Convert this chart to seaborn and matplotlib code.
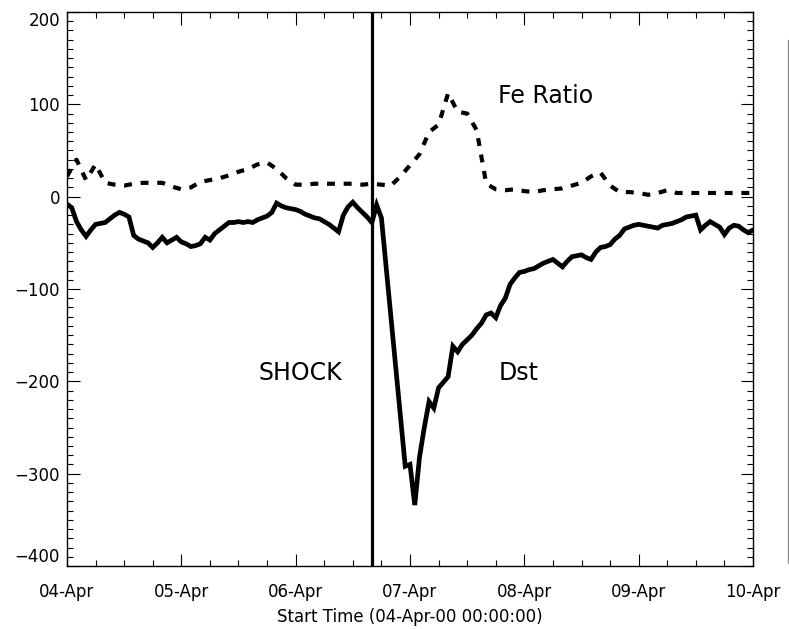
import numpy as np
import pandas as pd
import matplotlib
matplotlib.use("Agg")
import matplotlib.pyplot as plt
from matplotlib.ticker import MultipleLocator
from matplotlib.lines import Line2D
import seaborn as sns

# Dst index, hourly from 04-Apr-00 00:00 (nT)
dst_values = [
    -8, -12, -27, -36, -43, -36, -30, -29, -28, -24, -20, -17, -19, -22, -42, -46,
    -48, -50, -55, -50, -44, -50, -47, -44, -49, -51, -54, -53, -51, -44, -47, -40,
    -36, -32, -28, -28, -27, -28, -27, -28, -25, -23, -21, -17, -7, -10, -12, -13,
    -14, -16, -19, -21, -23, -24, -27, -30, -34, -38, -20, -11, -6, -12, -17, -22,
    -28, -9, -23, -77, -131, -185, -238, -292, -290, -334, -282, -250, -222, -229, -207, -201,
    -195, -162, -168, -160, -155, -150, -143, -137, -128, -126, -131, -118, -110, -95, -88, -82,
    -81, -79, -78, -75, -72, -70, -68, -72, -76, -70, -65, -64, -63, -66, -68, -60,
    -55, -54, -52, -46, -42, -35, -33, -31, -30, -31, -32, -33, -34, -31, -30, -29,
    -27, -25, -22, -21, -20, -36, -31, -27, -30, -33, -41, -34, -31, -32, -36, -39,
    -36,
]
dst_hours = np.arange(len(dst_values))

# Fe charge-state ratio, every 2 hours
fe_values = [
    22, 40, 18, 35, 15, 13, 12, 14, 15, 15, 15, 11, 8, 10, 16, 18,
    20, 23, 27, 30, 35, 37, 30, 20, 13, 13, 14, 14, 14, 14, 14, 13,
    14, 13, 12, 22, 34, 46, 70, 78, 112, 92, 90, 72, 14, 8, 7, 8,
    6, 5, 7, 8, 9, 12, 15, 22, 26, 12, 5, 5, 4, 2, 4, 7,
    4, 4, 4, 4, 4, 4, 4, 4, 4,
]
fe_hours = np.arange(len(fe_values)) * 2

day_ticks = [0, 24, 48, 72, 96, 120, 144]
day_labels = ["04-Apr", "05-Apr", "06-Apr", "07-Apr", "08-Apr", "09-Apr", "10-Apr"]
y_ticks = [-400, -300, -200, -100, 0, 100, 200]
shock_hour = 64

sns.set_style("ticks")
plt.rcParams["font.family"] = ["DejaVu Sans"]
plt.rcParams["text.color"] = "black"
plt.rcParams["axes.labelcolor"] = "black"
plt.rcParams["axes.edgecolor"] = "black"

fig = plt.figure(figsize=(7.89, 6.29), dpi=100)
ax = fig.add_axes([67 / 789, 63 / 629, 686 / 789, 554 / 629])

dst_df = pd.DataFrame({"hour": dst_hours, "value": dst_values})
fe_df = pd.DataFrame({"hour": fe_hours, "value": fe_values})

sns.lineplot(data=dst_df, x="hour", y="value", ax=ax, color="black", lw=3.4,
             solid_joinstyle="miter")
sns.lineplot(data=fe_df, x="hour", y="value", ax=ax, color="black", lw=3.0,
             ls=(0, (1.9, 2.1)))
ax.axvline(shock_hour, color="black", lw=2.3)

ax.text(90.5, 109, "Fe Ratio", fontsize=17, va="center", ha="left", color="black")
ax.text(40.2, -191, "SHOCK", fontsize=17, va="center", ha="left", color="black")
ax.text(90.5, -191, "Dst", fontsize=17, va="center", ha="left", color="black")

ax.set_xlim(0, 144)
ax.set_ylim(-400, 200)
ax.set_xticks(day_ticks)
ax.set_xticklabels(day_labels)
ax.set_yticks(y_ticks)
ax.xaxis.set_minor_locator(MultipleLocator(6))
ax.yaxis.set_minor_locator(MultipleLocator(10))
ax.tick_params(which="both", direction="in", top=True, right=True,
               width=0.8, colors="black", labelsize=12)
ax.tick_params(which="major", length=9)
ax.tick_params(which="minor", length=4.5)
ax.tick_params(axis="x", which="major", pad=12)
ax.tick_params(axis="y", which="major", pad=5)
for sp in ax.spines.values():
    sp.set_visible(True)
    sp.set_linewidth(1.0)
    sp.set_color("black")

ylabels = ax.get_yticklabels()
ylabels[0].set_va("bottom")
ylabels[-1].set_va("top")

ax.set_xlabel("Start Time (04-Apr-00 00:00:00)", fontsize=12, labelpad=5,
              color="black")
ax.set_ylabel("")

# edge of the neighbouring panel
fig.add_artist(Line2D([787.5 / 789, 787.5 / 789], [1 - 40 / 629, 1 - 563 / 629],
                      transform=fig.transFigure, color="#8c8c8c", lw=1))

fig.savefig("out.png", dpi=100)
